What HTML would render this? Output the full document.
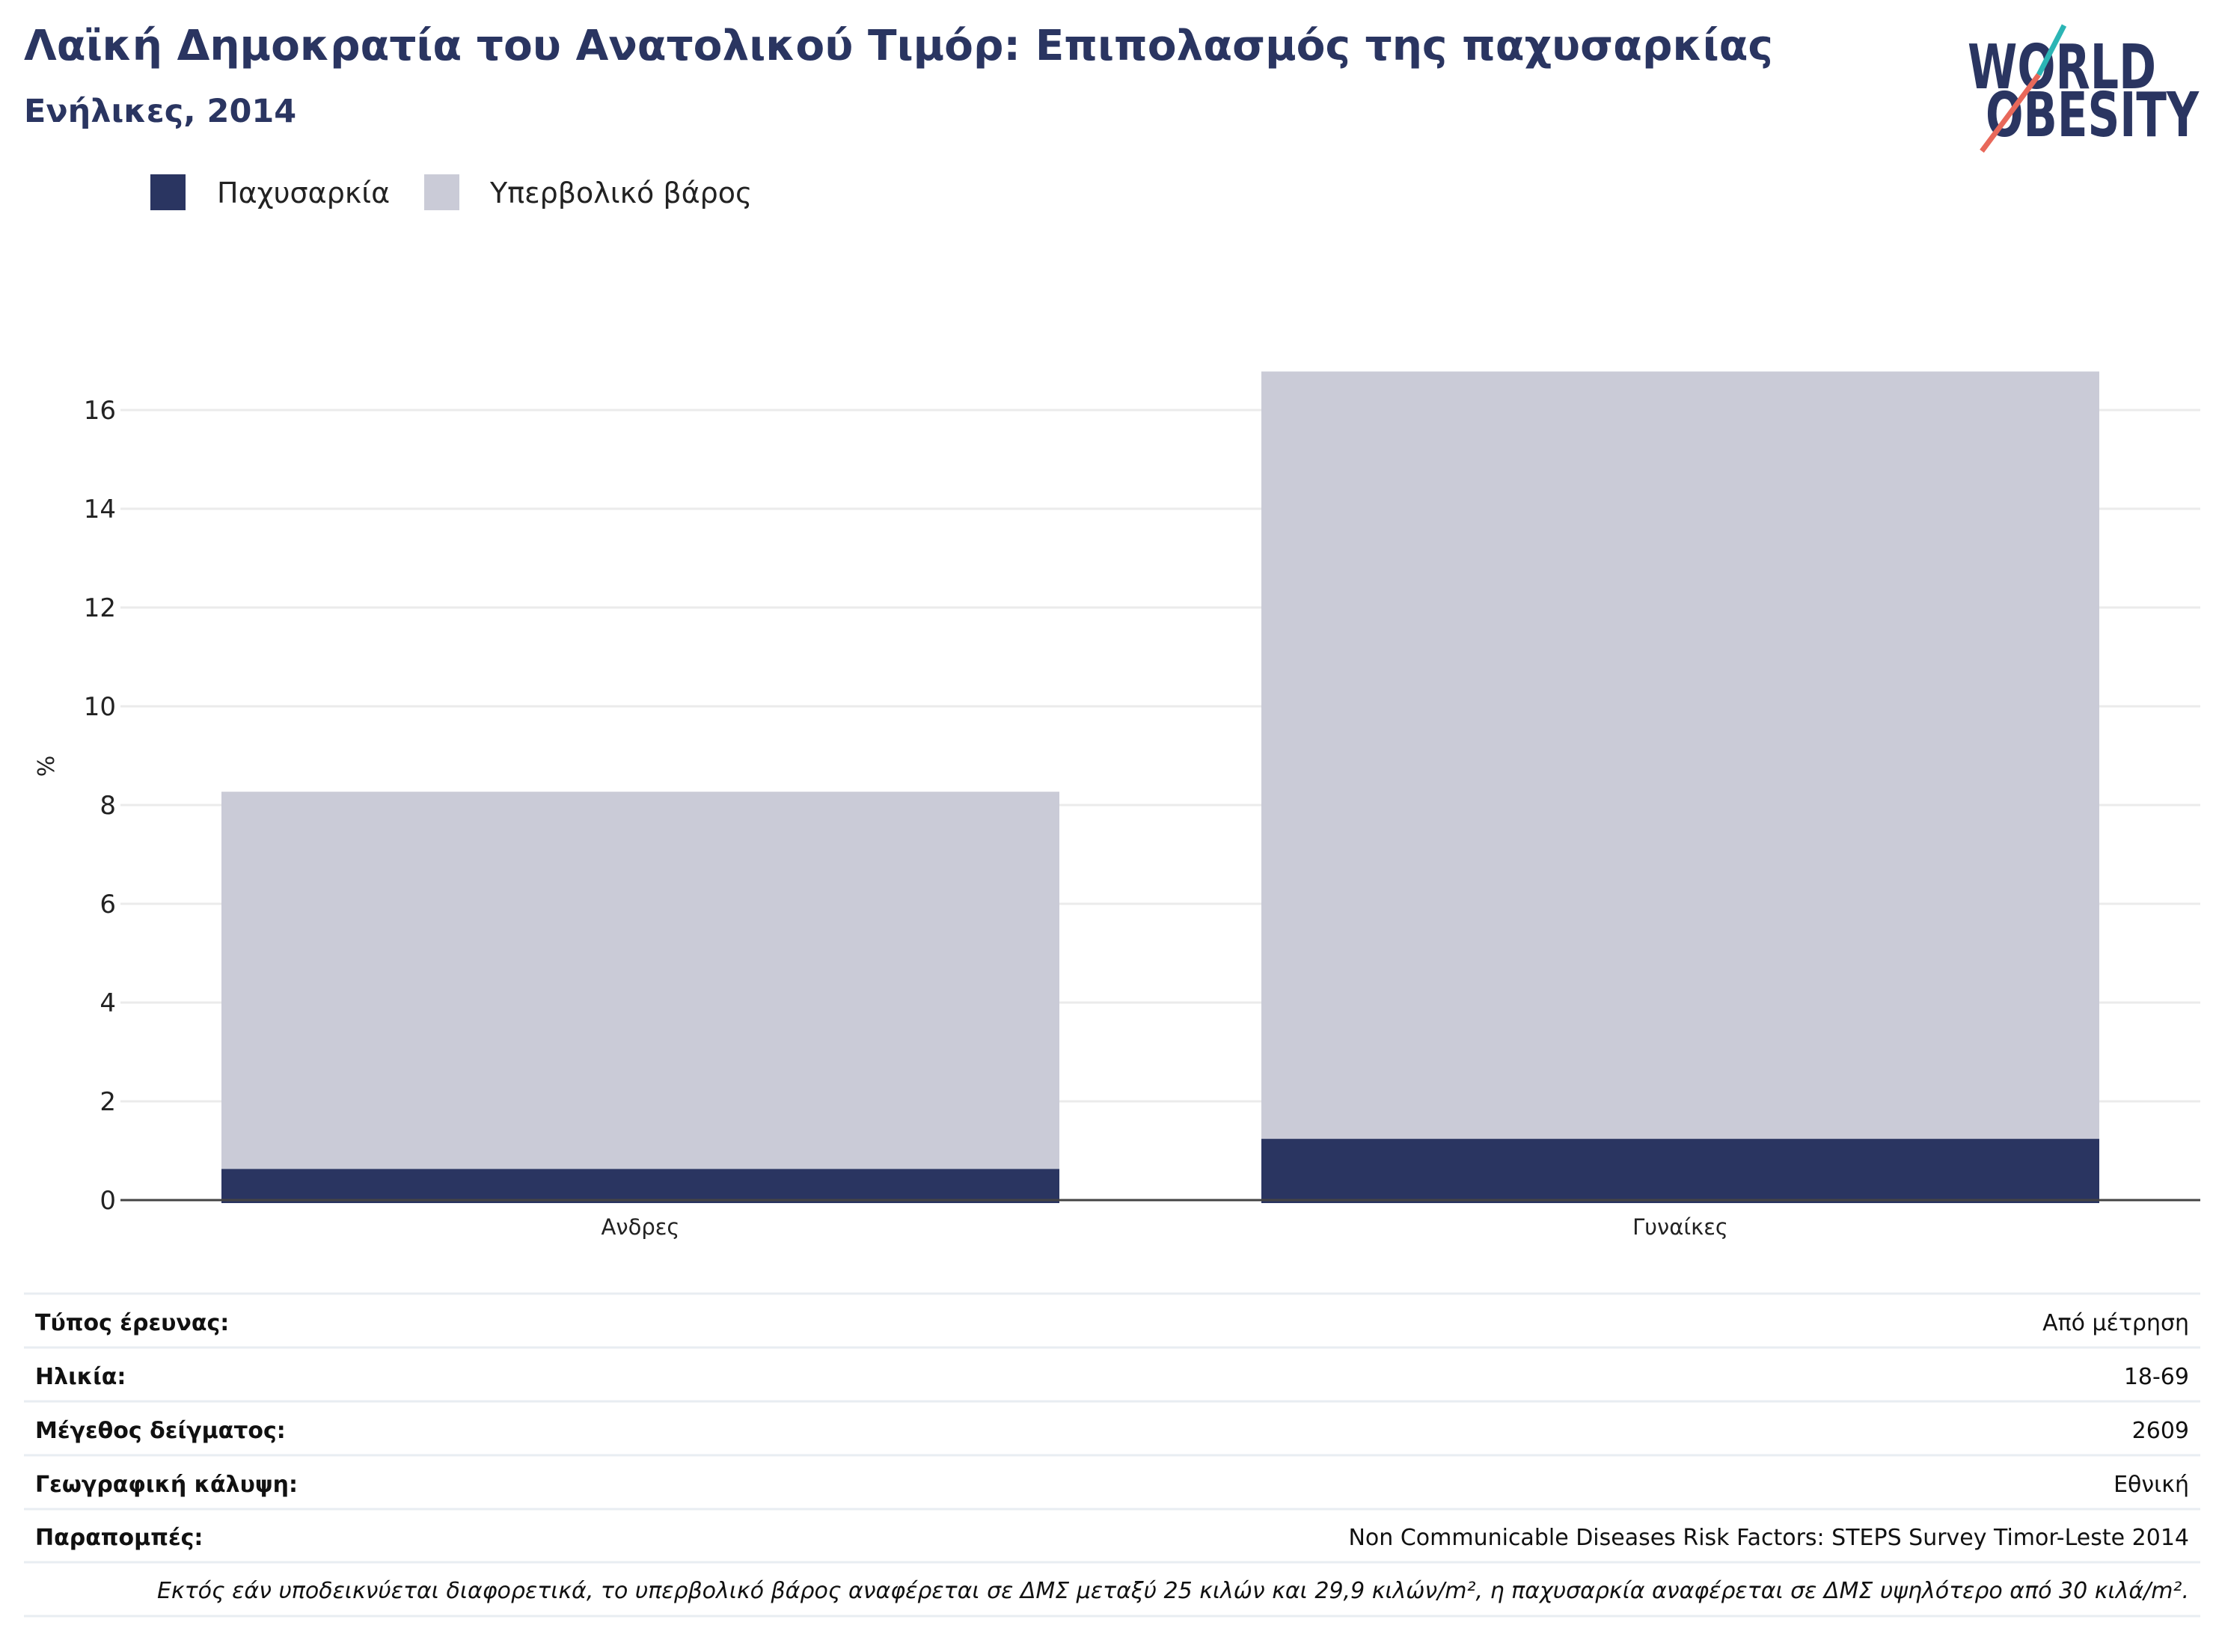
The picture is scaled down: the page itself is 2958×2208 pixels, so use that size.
<!DOCTYPE html>
<html><head><meta charset="utf-8"><style>
body{margin:0;background:#fff;}
svg text{font-family:"DejaVu Sans","Liberation Sans",sans-serif;}
</style></head><body>
<svg width="2958" height="2203" viewBox="0 0 2958 2203" xmlns="http://www.w3.org/2000/svg">
<text x="32" y="80" font-size="56.5" font-weight="bold" fill="#2a3561">Λαϊκή Δημοκρατία του Ανατολικού Τιμόρ: Επιπολασμός της παχυσαρκίας</text>
<text x="32" y="163" font-size="43" font-weight="bold" fill="#2a3561">Ενήλικες, 2014</text>
<g>
<text x="2630" y="118" font-size="82" font-weight="bold" fill="#2a3561" textLength="252" lengthAdjust="spacingAndGlyphs">WORLD</text>
<text x="2654" y="182" font-size="82" font-weight="bold" fill="#2a3561" textLength="285" lengthAdjust="spacingAndGlyphs">OBESITY</text>
<line x1="2759" y1="34" x2="2725" y2="100" stroke="#2bb5b5" stroke-width="7"/>
<line x1="2725" y1="100" x2="2649" y2="202" stroke="#e8685a" stroke-width="7"/>
</g>
<g>
<rect x="201" y="233" width="47" height="48" fill="#2a3561"/>
<text x="290" y="271" font-size="38" fill="#222">Παχυσαρκία</text>
<rect x="567" y="233" width="47" height="48" fill="#cacbd7"/>
<text x="655" y="271" font-size="38" fill="#222">Υπερβολικό βάρος</text>
</g>
<text transform="translate(72,1024) rotate(-90)" text-anchor="middle" font-size="30" fill="#222">%</text>
<g id="grid"></g><g id="bars"></g><g id="axis"></g>
<g font-size="30" fill="#111">
<g stroke="#e8edf2" stroke-width="3">
<line x1="32" y1="1729" x2="2941" y2="1729"/><line x1="32" y1="1801" x2="2941" y2="1801"/><line x1="32" y1="1873" x2="2941" y2="1873"/><line x1="32" y1="1945" x2="2941" y2="1945"/><line x1="32" y1="2017" x2="2941" y2="2017"/><line x1="32" y1="2088" x2="2941" y2="2088"/><line x1="32" y1="2160" x2="2941" y2="2160"/>
</g>
<text x="47" y="1778" font-weight="bold">Τύπος έρευνας:</text>
<text x="2926" y="1778" text-anchor="end">Από μέτρηση</text>
<text x="47" y="1850" font-weight="bold">Ηλικία:</text>
<text x="2926" y="1850" text-anchor="end">18-69</text>
<text x="47" y="1922" font-weight="bold">Μέγεθος δείγματος:</text>
<text x="2926" y="1922" text-anchor="end">2609</text>
<text x="47" y="1994" font-weight="bold">Γεωγραφική κάλυψη:</text>
<text x="2926" y="1994" text-anchor="end">Εθνική</text>
<text x="47" y="2065" font-weight="bold">Παραπομπές:</text>
<text x="2926" y="2065" text-anchor="end">Non Communicable Diseases Risk Factors: STEPS Survey Timor-Leste 2014</text>
<text x="2926" y="2136" text-anchor="end" font-style="italic">Εκτός εάν υποδεικνύεται διαφορετικά, το υπερβολικό βάρος αναφέρεται σε ΔΜΣ μεταξύ 25 κιλών και 29,9 κιλών/m², η παχυσαρκία αναφέρεται σε ΔΜΣ υψηλότερο από 30 κιλά/m².</text>
</g>
</svg>
<script>
const categories=["Ανδρες","Γυναίκες"];
const obesity=[0.63,1.24];
const overweight=[7.64,15.54];
const yTicks=[0,2,4,6,8,10,12,14,16];
const NS="http://www.w3.org/2000/svg";
const y0=1604, pxPer=66, xL=161, xR=2941;
const y=v=>y0-v*pxPer;
const band=(xR-xL)/categories.length, bw=1120;
const bx=i=>xL+band*i+(band-bw)/2;
function mk(tag,attrs,parent){const e=document.createElementNS(NS,tag);for(const k in attrs)e.setAttribute(k,attrs[k]);parent.appendChild(e);return e;}
const grid=document.getElementById('grid'),bars=document.getElementById('bars'),axis=document.getElementById('axis');
yTicks.forEach(t=>{
 if(t>0){const l=mk('line',{x1:xL,x2:xR,y1:y(t),y2:y(t),stroke:'#ebebeb','stroke-width':3},grid);
 
 }
 const tx=mk('text',{x:xL-6,y:y(t)+12,'text-anchor':'end','font-size':34,fill:'#222'},axis);
 tx.textContent=t;
 
 
});
categories.forEach((c,i)=>{
 const o=obesity[i],w=overweight[i];
 const r2=mk('rect',{x:bx(i),width:bw,y:y(o+w),height:(o+w)*pxPer-1,fill:'#cacbd7'},bars);
 
 
 const r1=mk('rect',{x:bx(i),width:bw,y:y(o),height:o*pxPer+4,fill:'#2a3561'},bars);
 
 
 const lb=mk('text',{x:bx(i)+bw/2,y:1650,'text-anchor':'middle','font-size':29,fill:'#222'},axis);
 lb.textContent=c;
 
 
});
const ax=mk('line',{x1:xL,x2:xR,y1:y0,y2:y0,stroke:'#444','stroke-width':3},axis);


</script>
</body></html>
